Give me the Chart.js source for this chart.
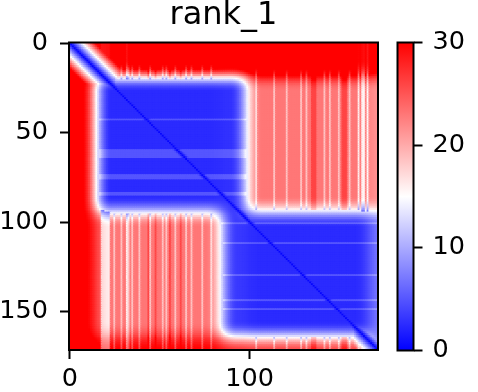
<!DOCTYPE html>
<html><head><meta charset="utf-8">
<script src="https://cdn.jsdelivr.net/npm/chart.js@4.4.1/dist/chart.umd.min.js"></script>
<style>
html,body{margin:0;padding:0;background:#fff;}
#wrap{position:relative;width:478px;height:392px;overflow:hidden;}
#main{position:absolute;left:0;top:0;}
#cbar{position:absolute;left:380px;top:0;}
</style></head><body>
<div id="wrap"><canvas id="main" width="478" height="392"></canvas><canvas id="cbar" width="98" height="392"></canvas></div>
<script>
// ---- values ----
const chartTitle = 'rank_1';
const N = 172;                       // residues per side
const xTicks = [0, 100];
const yTicks = [0, 50, 100, 150];
const cbTicks = [0, 10, 20, 30];
const vmin = 0, vmax = 30;
// segment starts (rows: N-tail, domain 1, domain 2, C-tail; columns add a hinge segment)
const rowSegStart = [0, 19, 95, 165];
const colSegStart = [0, 15, 85, 99, 168];
// mean distance level of each row segment against each column segment
const levelNTail = [34, 36, 35, 37, 33];
const levelDom1  = [31, 2.5, 3, 23, 21];
const levelDom2  = [31, 23, 3.5, 2.5, 8];
const levelCTail = [33, 30, 27, 26, 6];
// diagonal band: distance at |i-j| = 0 and growth per residue
const diagBase = 0.3, diagSlope = 2.1;
// lighter horizontal streaks inside the blue blocks
const lightRows = [43, 60, 61, 62, 63, 64, 74, 75, 76, 84, 85, 101, 112, 130, 144, 149];
const lightRowShift = 2.5;
// vertical stripes in the far (red) regions
const lightCols = [25, 29, 33, 35, 39, 45, 52, 54, 59, 65, 68, 74, 79, 104, 114, 121, 129, 132, 142, 145, 150, 156];
const lightColShift = 4.5;
const paleCols = [18, 19, 20, 21, 22, 32, 161, 163, 164, 166];
const paleColShift = 7;
const darkCols = [44, 48, 56, 62, 135, 136, 137, 152, 153, 154];
const darkColShift = -3;
const edgeBlur = 4;                  // half-width of the fuzzy block edges (two passes)

// ---- build the cell table from those values ----
const levelBySeg = [levelNTail, levelDom1, levelDom2, levelCTail];
function segIndex(starts, k){ let s = 0; for (let t = 0; t < starts.length; t++) if (k >= starts[t]) s = t; return s; }
const clampI = k => Math.max(0, Math.min(N - 1, k));
let grid = [];
for (let i = 0; i < N; i++){ const r = []; const lv = levelBySeg[segIndex(rowSegStart, i)];
  for (let j = 0; j < N; j++) r.push(lv[segIndex(colSegStart, j)]); grid.push(r); }
function smooth(m){
  const a = m.map((r, i) => r.map((_, j) => { let s = 0; for (let d = -edgeBlur; d <= edgeBlur; d++) s += m[i][clampI(j + d)]; return s / (2 * edgeBlur + 1); }));
  return a.map((r, i) => r.map((_, j) => { let s = 0; for (let d = -edgeBlur; d <= edgeBlur; d++) s += a[clampI(i + d)][j]; return s / (2 * edgeBlur + 1); }));
}
const base = smooth(smooth(grid));
const rowShift = new Array(N).fill(0); lightRows.forEach(k => rowShift[k] = lightRowShift);
const colShift = new Array(N).fill(0);
lightCols.forEach(k => colShift[k] = lightColShift);
paleCols.forEach(k => colShift[k] = paleColShift);
darkCols.forEach(k => colShift[k] = darkColShift);

function bwr(v){
  const t = Math.max(0, Math.min(1, (v - vmin) / (vmax - vmin)));
  let r, g, b;
  if (t < 0.5){ r = g = 2 * t; b = 1; } else { r = 1; g = b = 2 * (1 - t); }
  return 'rgb(' + Math.round(r * 255) + ',' + Math.round(g * 255) + ',' + Math.round(b * 255) + ')';
}
const pts = [], cols = [];
for (let i = 0; i < N; i++) for (let j = 0; j < N; j++){
  const b0 = base[i][j]; let v = b0; const dd = Math.abs(i - j);
  if (b0 < 12 && dd > 1) v += rowShift[i];
  if (b0 > 14) v -= colShift[j];
  v = Math.min(v, diagBase + diagSlope * dd);
  pts.push({x: j, y: i}); cols.push(bwr(v));
}

const tickFont = {family: 'DejaVu Sans', size: 25.5};
const frame = {id: 'frame', afterDraw(chart){ const {ctx, chartArea: a} = chart; ctx.save(); ctx.strokeStyle = '#000'; ctx.lineWidth = 2; ctx.strokeRect(a.left, a.top, a.right - a.left, a.bottom - a.top); ctx.restore(); }};
const gridOpts = {display: true, drawOnChartArea: false, drawTicks: true, tickLength: 9, tickWidth: 2, tickColor: '#000'};

new Chart(document.getElementById('main'), {
  type: 'scatter',
  data: {datasets: [{data: pts, pointStyle: 'rect', pointRadius: 2.1, pointHoverRadius: 2.1, pointBorderWidth: 0, pointBackgroundColor: cols, clip: 0}]},
  options: {
    responsive: false, animation: false, events: [], parsing: false,
    layout: {padding: {left: 0, right: 100, top: 0, bottom: 0}},
    plugins: {legend: {display: false}, tooltip: {enabled: false},
      title: {display: true, text: chartTitle, fullSize: false, color: '#000', font: {family: 'DejaVu Sans', size: 32, weight: 'normal', lineHeight: 1.0}, padding: {top: 0, bottom: 10.5}}},
    scales: {
      x: {type: 'linear', position: 'bottom', min: -0.5, max: N - 0.5,
        afterBuildTicks: s => { s.ticks = xTicks.map(v => ({value: v})); },
        afterFit: s => { s.height = 42; },
        grid: gridOpts, border: {display: false},
        ticks: {font: tickFont, color: '#000', padding: 5, maxRotation: 0, autoSkip: false}},
      y: {type: 'linear', position: 'left', reverse: true, min: -0.5, max: N - 0.5,
        afterBuildTicks: s => { s.ticks = yTicks.map(v => ({value: v})); },
        afterFit: s => { s.width = 69; },
        grid: gridOpts, border: {display: false},
        ticks: {font: tickFont, color: '#000', padding: 12, autoSkip: false}}
    }
  },
  plugins: [frame]
});

new Chart(document.getElementById('cbar'), {
  type: 'bar',
  data: {labels: [''], datasets: [{data: [[vmin, vmax]], borderWidth: 0, categoryPercentage: 1, barPercentage: 1,
    backgroundColor: c => { const a = c.chart.chartArea; if (!a) return 'rgba(0,0,0,0)';
      const g = c.chart.ctx.createLinearGradient(0, a.bottom, 0, a.top);
      g.addColorStop(0, bwr(vmin)); g.addColorStop(0.5, bwr((vmin + vmax) / 2)); g.addColorStop(1, bwr(vmax)); return g; }}]},
  options: {
    responsive: false, animation: false, events: [],
    layout: {padding: {left: 17.5, top: 42.5, bottom: 41.5, right: 0}},
    plugins: {legend: {display: false}, tooltip: {enabled: false}},
    scales: {
      x: {display: false},
      y: {position: 'right', min: vmin, max: vmax,
        afterBuildTicks: s => { s.ticks = cbTicks.map(v => ({value: v})); },
        afterFit: s => { s.width = 64.5; },
        grid: gridOpts, border: {display: false},
        ticks: {font: tickFont, color: '#000', padding: 10, autoSkip: false}}
    }
  },
  plugins: [frame]
});
</script></body></html>
